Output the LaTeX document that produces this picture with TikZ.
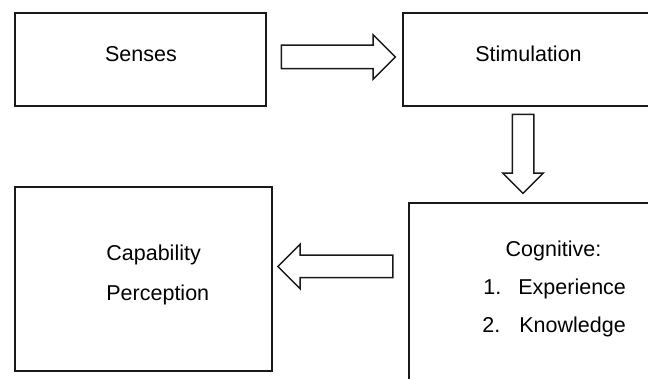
\documentclass[tikz,border=0pt]{standalone}
\usepackage{fontspec}
\setmainfont{Liberation Sans}
\usetikzlibrary{shapes.arrows}
\definecolor{boxline}{RGB}{25, 25, 25}

\tikzset{
  box/.style={draw=boxline, line width=1pt, inner sep=0pt,
              minimum width=125.5pt, minimum height=46.5pt},
  lbl/.style={font=\fontsize{10.75}{13}\selectfont, inner sep=0pt},
  fatarrow/.style={draw=boxline, line width=0.75pt, fill=white, single arrow,
                   single arrow head extend=5.25pt, inner sep=5.5pt,
                   minimum height=57pt}
}

\begin{document}
\begin{tikzpicture}[x=0.5pt, y=-0.5pt]
        \clip (0,0) rectangle (648,379);
        % Boxes
        \node[box] (senses) at (140.5,59.5) {};
        \node[box] (stim) at (528.5,59.5) {};
        \node[box, anchor=north west, minimum width=130pt, minimum height=95pt]
          (cog) at (408,202) {};
        \node[box, minimum width=128.5pt, minimum height=92pt] (capab) at (143.5,279) {};
        % Labels
        \node[lbl, anchor=base] (senses-t) at (141,62) {Senses};
        \node[lbl, anchor=base] (stim-t) at (528.5,62) {Stimulation};
        \node[lbl, anchor=base] (cog-t) at (553.5,257) {Cognitive:};
        \node[lbl, anchor=base west] (num1) at (483,295) {1.};
        \node[lbl, anchor=base west] (exp-t) at (518,295) {Experience};
        \node[lbl, anchor=base west] (num2) at (482,333) {2.};
        \node[lbl, anchor=base west] (know-t) at (519,333) {Knowledge};
        \node[lbl, anchor=base west] (capab-t) at (106,261) {Capability};
        \node[lbl, anchor=base west] (perc-t) at (106,300) {Perception};
        % Block arrows between the boxes
        \node[fatarrow] (ar1) at (332.5,57) {};
        \node[fatarrow, shape border rotate=270, inner sep=5pt,
              single arrow head extend=4.75pt, minimum height=39.5pt] (ar2) at (523,148.5) {};
        \node[fatarrow, shape border rotate=180, inner sep=5.25pt,
              single arrow head extend=5.5pt, minimum height=57.5pt] (ar3) at (341,266.5) {};
      \end{tikzpicture}
\end{document}
